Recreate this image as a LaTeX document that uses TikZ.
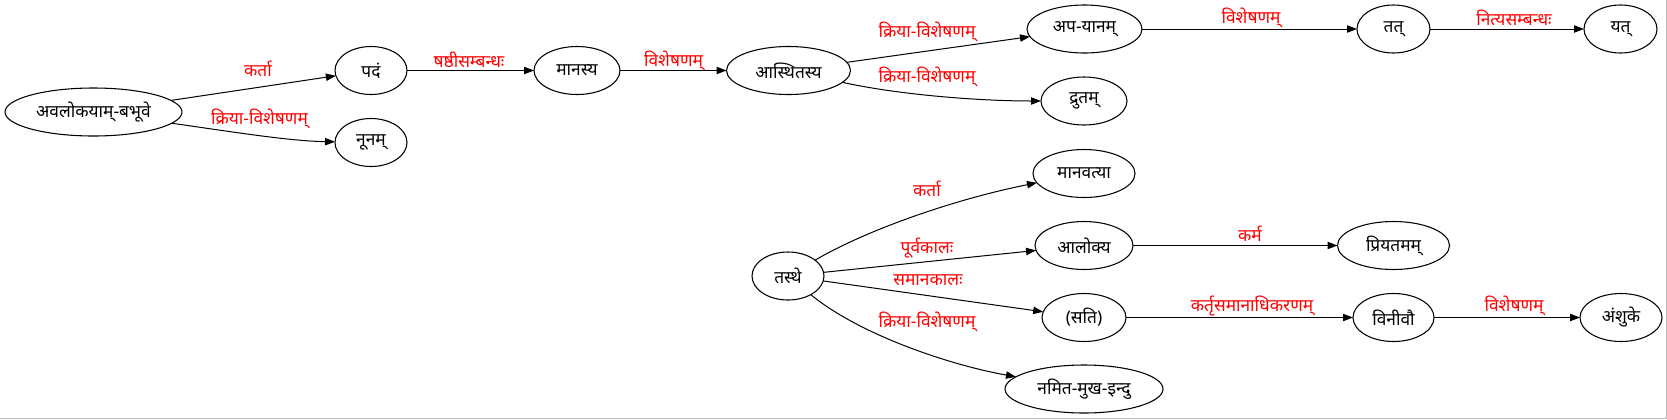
\documentclass[tikz,border=0pt]{standalone}
\usepackage{fontspec}
\newfontfamily\deva[Script=Devanagari]{Noto Sans}
\usetikzlibrary{arrows.meta,shapes.geometric}
\tikzset{
  nd/.style={ellipse, draw, line width=0.8pt, inner sep=0pt, outer sep=0pt,
    minimum height=36pt, font=\deva\fontsize{13}{15}\selectfont},
  wd/.style={minimum width=#1*1.5pt},
  lbl/.style={text=red, inner sep=0pt, font=\deva\fontsize{13}{15}\selectfont},
  edge/.style={-{Triangle[length=7.5pt,width=5.5pt]}, line width=0.75pt},
  frame/.style={draw=gray!55, line width=0.75pt}
}
\begin{document}
\begin{tikzpicture}[x=0.75pt,y=-0.75pt]
\useasboundingbox (0,0) rectangle (1667,419);
% nodes
\node[nd,wd=88.5] (A)   at (93.5,112)   {अवलोकयाम्-बभूवे};
\node[nd,wd=36]   (pad) at (371,70.5)   {पदं};
\node[nd,wd=36]   (nun) at (371,142.5)  {नूनम्};
\node[nd,wd=43]   (man) at (577,70.5)   {मानस्य};
\node[nd,wd=62]   (ast) at (788.5,70.5) {आस्थितस्य};
\node[nd,wd=57.5] (apy) at (1084.5,29)  {अप-यानम्};
\node[nd,wd=43]   (dru) at (1084,101)   {द्रुतम्};
\node[nd,wd=36.5] (tat) at (1393.5,29)  {तत्};
\node[nd,wd=36.5] (yat) at (1620.5,29)  {यत्};
\node[nd,wd=51]   (mnv) at (1084,173.5) {मानवत्या};
\node[nd,wd=49]   (alo) at (1084,245.5) {आलोक्य};
\node[nd,wd=56]   (pri) at (1393.5,245.5) {प्रियतमम्};
\node[nd,wd=36]   (tas) at (788,276)    {तस्थे};
\node[nd,wd=42]   (sat) at (1084,317.5) {(सति)};
\node[nd,wd=40.5] (vin) at (1393.5,317.5) {विनीवौ};
\node[nd,wd=41]   (ans) at (1621,317.5) {अंशुके};
\node[nd,wd=79]   (nam) at (1084,389)   {नमित-मुख-इन्दु};
% edges
\draw[edge] (A) -- (pad);
\draw[edge] (A) .. controls (240,133) and (290,141) .. (nun);
\draw[edge] (pad) -- (man);
\draw[edge] (man) -- (ast);
\draw[edge] (ast) -- (apy);
\draw[edge] (ast) .. controls (900,95) and (980,101) .. (dru);
\draw[edge] (apy) -- (tat);
\draw[edge] (tat) -- (yat);
\draw[edge] (tas) .. controls (870,228) and (960,198) .. (mnv);
\draw[edge] (tas) -- (alo);
\draw[edge] (tas) -- (sat);
\draw[edge] (tas) .. controls (860,335) and (950,365) .. (nam);
\draw[edge] (alo) -- (pri);
\draw[edge] (sat) -- (vin);
\draw[edge] (vin) -- (ans);
% edge labels
\node[lbl] (l1)  at (258,69)    {कर्ता};
\node[lbl] (l2)  at (259.5,119) {क्रिया-विशेषणम्};
\node[lbl] (l3)  at (469,60)    {षष्ठीसम्बन्धः};
\node[lbl] (l4)  at (673.5,61)  {विशेषणम्};
\node[lbl] (l5)  at (927,32)    {क्रिया-विशेषणम्};
\node[lbl] (l6)  at (927,77)    {क्रिया-विशेषणम्};
\node[lbl] (l7)  at (1251,18)   {विशेषणम्};
\node[lbl] (l8)  at (1514,18)   {नित्यसम्बन्धः};
\node[lbl] (l9)  at (927,189)   {कर्ता};
\node[lbl] (l10) at (927,248)   {पूर्वकालः};
\node[lbl] (l11) at (928,280)   {समानकालः};
\node[lbl] (l12) at (927,322)   {क्रिया-विशेषणम्};
\node[lbl] (l13) at (1250,234)  {कर्म};
\node[lbl] (l14) at (1252,306)  {कर्तृसमानाधिकरणम्};
\node[lbl] (l15) at (1514,306)  {विशेषणम्};
% frame edges
\draw[frame] (1666.5,0) -- (1666.5,418.5) -- (0,418.5);
\end{tikzpicture}
\end{document}
